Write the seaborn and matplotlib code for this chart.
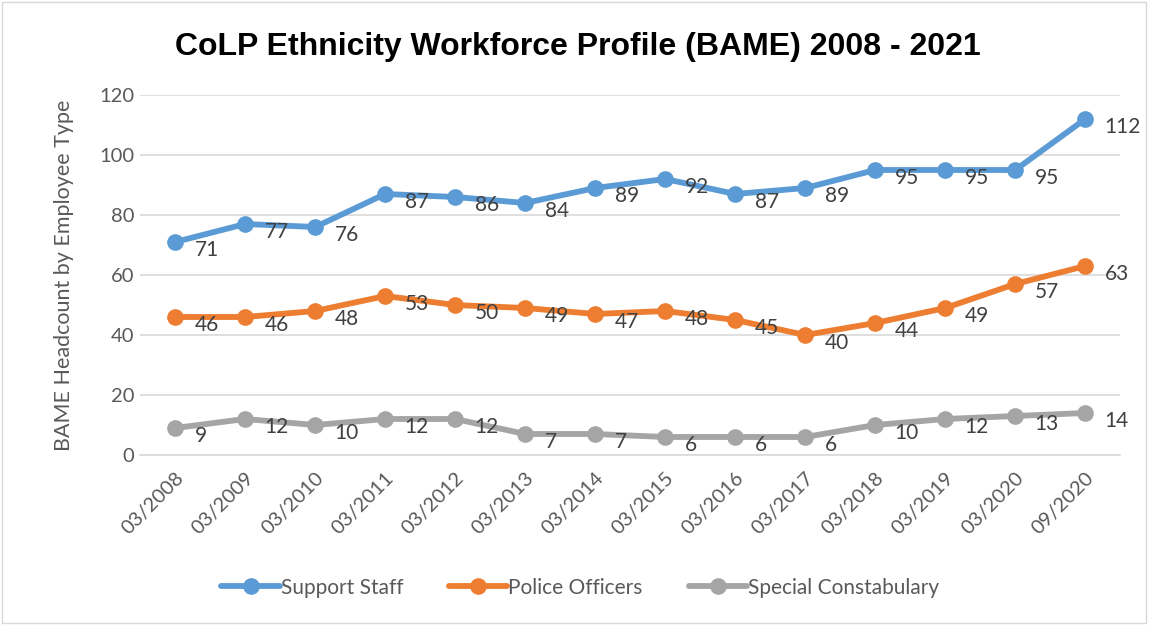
import pandas as pd
import matplotlib.pyplot as plt
import seaborn as sns

# Survey dates and BAME headcounts per employee type
periods = ["03/2008", "03/2009", "03/2010", "03/2011", "03/2012", "03/2013", "03/2014",
           "03/2015", "03/2016", "03/2017", "03/2018", "03/2019", "03/2020", "09/2020"]
support_staff = [71, 77, 76, 87, 86, 84, 89, 92, 87, 89, 95, 95, 95, 112]
police_officers = [46, 46, 48, 53, 50, 49, 47, 48, 45, 40, 44, 49, 57, 63]
special_constabulary = [9, 12, 10, 12, 12, 7, 7, 6, 6, 6, 10, 12, 13, 14]

series_names = ["Support Staff", "Police Officers", "Special Constabulary"]
palette = {"Support Staff": "#5B9BD5", "Police Officers": "#ED7D31",
           "Special Constabulary": "#A5A5A5"}

# Long-form table for seaborn
df = pd.DataFrame({
    "period": periods * 3,
    "headcount": support_staff + police_officers + special_constabulary,
    "type": [s for s in series_names for _ in periods],
})
df["pos"] = [i for _ in series_names for i in range(len(periods))]

sns.set_style("white")
plt.rcParams["font.family"] = ["Lato", "DejaVu Sans"]
grey = "#595959"

fig = plt.figure(figsize=(11.49, 6.25), dpi=100)
ax = fig.add_axes([0.122, 0.272, 0.853, 0.576])

sns.lineplot(data=df, x="pos", y="headcount", hue="type", hue_order=series_names,
             palette=palette, marker="o", markersize=12, markeredgewidth=0,
             linewidth=4.2, ax=ax, legend=True)

# Data labels, right of each point
for name in series_names:
    sub = df[df["type"] == name]
    for x, y in zip(sub["pos"], sub["headcount"]):
        ax.annotate(str(y), (x, y), xytext=(14, -6), textcoords="offset points",
                    ha="left", va="center", fontsize=15, color="#404040")

ax.set_xlim(-0.5, len(periods) - 0.5)
ax.set_ylim(0, 120)
ax.set_yticks(range(0, 121, 20))
ax.set_xticks(range(len(periods)))
ax.set_xticklabels(periods, rotation=45, ha="right", rotation_mode="anchor")
ax.tick_params(axis="both", colors=grey, labelsize=14.5, length=0)
ax.tick_params(axis="y", pad=4)
ax.tick_params(axis="x", pad=10)
ax.yaxis.grid(True, color="#D9D9D9", linewidth=1.2)
for side in ["top", "right", "left"]:
    ax.spines[side].set_visible(False)
ax.spines["bottom"].set_color("#D9D9D9")
ax.spines["bottom"].set_linewidth(1.2)
# small tick marks between categories, as in the source
ax.set_xticks([i - 0.5 for i in range(len(periods) + 1)], minor=True)
ax.tick_params(axis="x", which="minor", length=6, color="#D9D9D9", width=1.2)

ax.set_xlabel("")
ax.set_ylabel("BAME Headcount by Employee Type", fontsize=15.5, color=grey, labelpad=18)

fig.suptitle("CoLP Ethnicity Workforce Profile (BAME) 2008 - 2021", x=0.503, y=0.948,
             fontsize=23, fontweight="bold", color="black", family="Liberation Sans")

handles, labels = ax.get_legend_handles_labels()
ax.legend(handles, labels, loc="center", bbox_to_anchor=(0.505, 0.06),
          bbox_transform=fig.transFigure, ncol=3, frameon=False, fontsize=15,
          labelcolor=grey, handlelength=2.8, handletextpad=0.05, columnspacing=2.2)

# thin border around the whole figure
fig.patches.append(plt.Rectangle((0.002, 0.003), 0.995, 0.994, transform=fig.transFigure,
                                 fill=False, edgecolor="#D9D9D9", linewidth=1))

fig.savefig("out.png", dpi=100)
